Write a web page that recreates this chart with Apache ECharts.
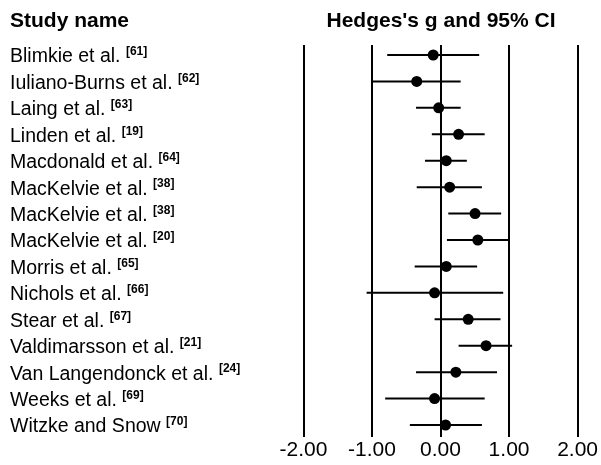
<!DOCTYPE html>
<html>
<head>
<meta charset="utf-8">
<script src="https://cdn.jsdelivr.net/npm/echarts@6/dist/echarts.min.js"></script>
<style>html,body{margin:0;padding:0;background:#fff}#c{width:601px;height:465px}</style>
</head>
<body>
<div id="c"></div>
<script>
var studies = ['Blimkie et al.', 'Iuliano-Burns et al.', 'Laing et al.', 'Linden et al.', 'Macdonald et al.', 'MacKelvie et al.', 'MacKelvie et al.', 'MacKelvie et al.', 'Morris et al.', 'Nichols et al.', 'Stear et al.', 'Valdimarsson et al.', 'Van Langendonck et al.', 'Weeks et al.', 'Witzke and Snow'];
var refs = ['[61]', '[62]', '[63]', '[19]', '[64]', '[38]', '[38]', '[20]', '[65]', '[66]', '[67]', '[21]', '[24]', '[69]', '[70]'];
var hedgesG = [-0.11, -0.35, -0.03, 0.26, 0.08, 0.13, 0.50, 0.54, 0.08, -0.09, 0.40, 0.66, 0.22, -0.09, 0.07];
var lowerCI = [-0.78, -1.00, -0.36, -0.13, -0.23, -0.35, 0.11, 0.09, -0.38, -1.08, -0.09, 0.26, -0.36, -0.81, -0.45];
var upperCI = [0.56, 0.29, 0.29, 0.64, 0.38, 0.60, 0.88, 0.99, 0.53, 0.91, 0.87, 1.04, 0.82, 0.64, 0.60];
var tickLabels = ['-2.00', '-1.00', '0.00', '1.00', '2.00'];
var tickValues = [-2, -1, 0, 1, 2];

var FONT = '"Liberation Sans", Arial, sans-serif';
var chart = echarts.init(document.getElementById('c'), null, {renderer: 'canvas'});

var cats = studies.map(function (s, i) { return i; });
var points = hedgesG.map(function (g, i) { return [g, i]; });
var bars = lowerCI.map(function (lo, i) { return [lo, upperCI[i], i]; });

chart.setOption({
  backgroundColor: '#fff',
  animation: false,
  title: [
    {text: 'Study name', left: 10, top: 11, padding: 0, textStyle: {fontFamily: FONT, fontSize: 21, fontWeight: 'bold', color: '#000'}},
    {text: "Hedges's g and 95% CI", left: 441, top: 11, padding: 0, textAlign: 'center', textStyle: {fontFamily: FONT, fontSize: 21, fontWeight: 'bold', color: '#000'}}
  ],
  grid: [
    {left: 303.5, right: 23, top: 45, bottom: 28},
    {left: 303.5, right: 23, top: 41.8, bottom: 26.8}
  ],
  xAxis: [
    {gridIndex: 0, type: 'value', min: -2, max: 2, interval: 1,
     axisLine: {show: false}, axisTick: {show: false},
     splitLine: {show: true, lineStyle: {color: '#000', width: 2}},
     axisLabel: {margin: 3, fontFamily: FONT, fontSize: 21, color: '#000',
       formatter: function (v) { var k = tickValues.indexOf(v); return k >= 0 ? tickLabels[k] : ''; }}},
    {gridIndex: 1, type: 'value', min: -2, max: 2, show: false}
  ],
  yAxis: [
    {gridIndex: 0, type: 'value', show: false},
    {gridIndex: 1, type: 'category', data: cats, inverse: true,
     axisLine: {show: false}, axisTick: {show: false}, splitLine: {show: false},
     axisLabel: {margin: 293.5, align: 'left', padding: [4, 0, 0, 0],
       formatter: function (v) { var i = +v; return '{n|' + studies[i] + ' }{s|' + refs[i] + '}'; },
       rich: {
         n: {fontFamily: FONT, fontSize: 19.5, color: '#000', lineHeight: 22},
         s: {fontFamily: FONT, fontSize: 12, fontWeight: 'bold', color: '#000', lineHeight: 14, verticalAlign: 'top'}
       }}}
  ],
  series: [
    {type: 'custom', xAxisIndex: 1, yAxisIndex: 1, data: bars,
     renderItem: function (params, api) {
       var a = api.coord([api.value(0), api.value(2)]);
       var b = api.coord([api.value(1), api.value(2)]);
       return {type: 'line', shape: {x1: a[0], y1: a[1], x2: b[0], y2: b[1]}, style: {stroke: '#000', lineWidth: 2}};
     }},
    {type: 'scatter', xAxisIndex: 1, yAxisIndex: 1, data: points, symbol: 'circle', symbolSize: 11,
     itemStyle: {color: '#000', opacity: 1}}
  ]
});
</script>
</body>
</html>
